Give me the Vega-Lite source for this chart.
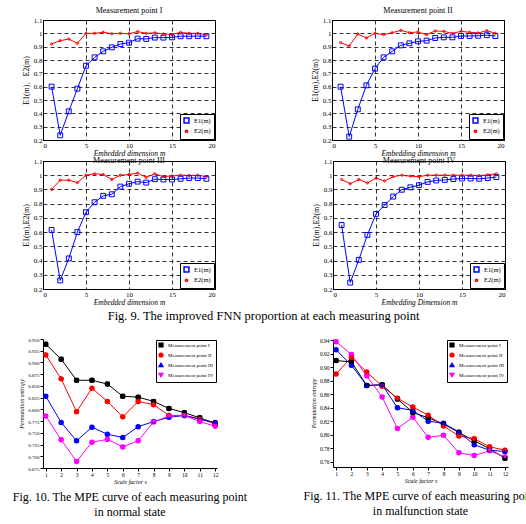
{
  "$schema": "https://vega.github.io/schema/vega-lite/v6.json",
  "padding": {"left": 12, "top": 6, "right": 0, "bottom": 0},
  "background": "white",
  "config": {
    "font": "Liberation Serif",
    "view": {"stroke": null},
    "axis": {"labelColor": "black", "titleColor": "black", "domainColor": "black", "tickColor": "black", "titleFontWeight": "normal", "labelFontSize": 7, "titleFontSize": 7.5, "labelPadding": 1, "titlePadding": 1},
    "title": {"fontSize": 8, "fontWeight": "normal", "offset": 1, "color": "black"},
    "legend": {"labelColor": "black"}
  },
  "datasets": {
    "fnn1": [
      {"m": 1, "E1": 0.60, "E2": 0.92}, {"m": 2, "E1": 0.235, "E2": 0.945}, {"m": 3, "E1": 0.415, "E2": 0.957},
      {"m": 4, "E1": 0.585, "E2": 0.925}, {"m": 5, "E1": 0.757, "E2": 1.0}, {"m": 6, "E1": 0.82, "E2": 1.0},
      {"m": 7, "E1": 0.865, "E2": 1.008}, {"m": 8, "E1": 0.895, "E2": 0.997}, {"m": 9, "E1": 0.92, "E2": 1.0},
      {"m": 10, "E1": 0.93, "E2": 0.997}, {"m": 11, "E1": 0.96, "E2": 1.013}, {"m": 12, "E1": 0.958, "E2": 1.0},
      {"m": 13, "E1": 0.968, "E2": 1.004}, {"m": 14, "E1": 0.968, "E2": 0.995}, {"m": 15, "E1": 0.97, "E2": 0.992},
      {"m": 16, "E1": 0.978, "E2": 1.007}, {"m": 17, "E1": 0.978, "E2": 1.0}, {"m": 18, "E1": 0.98, "E2": 1.0},
      {"m": 19, "E1": 0.978, "E2": 0.99}
    ],
    "fnn2": [
      {"m": 1, "E1": 0.60, "E2": 0.93}, {"m": 2, "E1": 0.225, "E2": 0.905}, {"m": 3, "E1": 0.43, "E2": 0.995},
      {"m": 4, "E1": 0.61, "E2": 0.965}, {"m": 5, "E1": 0.735, "E2": 1.0}, {"m": 6, "E1": 0.82, "E2": 0.99},
      {"m": 7, "E1": 0.865, "E2": 1.005}, {"m": 8, "E1": 0.91, "E2": 1.022}, {"m": 9, "E1": 0.925, "E2": 1.005},
      {"m": 10, "E1": 0.94, "E2": 1.01}, {"m": 11, "E1": 0.945, "E2": 0.99}, {"m": 12, "E1": 0.965, "E2": 1.018},
      {"m": 13, "E1": 0.97, "E2": 1.015}, {"m": 14, "E1": 0.97, "E2": 1.0}, {"m": 15, "E1": 0.98, "E2": 1.015},
      {"m": 16, "E1": 0.98, "E2": 1.008}, {"m": 17, "E1": 0.982, "E2": 1.003}, {"m": 18, "E1": 0.986, "E2": 1.02},
      {"m": 19, "E1": 0.98, "E2": 1.0}
    ],
    "fnn3": [
      {"m": 1, "E1": 0.615, "E2": 0.90}, {"m": 2, "E1": 0.26, "E2": 0.965}, {"m": 3, "E1": 0.415, "E2": 0.965},
      {"m": 4, "E1": 0.60, "E2": 0.948}, {"m": 5, "E1": 0.74, "E2": 1.0}, {"m": 6, "E1": 0.81, "E2": 1.01},
      {"m": 7, "E1": 0.855, "E2": 1.005}, {"m": 8, "E1": 0.866, "E2": 0.97}, {"m": 9, "E1": 0.92, "E2": 1.0},
      {"m": 10, "E1": 0.94, "E2": 1.005}, {"m": 11, "E1": 0.955, "E2": 1.015}, {"m": 12, "E1": 0.948, "E2": 0.985},
      {"m": 13, "E1": 0.972, "E2": 1.01}, {"m": 14, "E1": 0.97, "E2": 0.99}, {"m": 15, "E1": 0.97, "E2": 0.995},
      {"m": 16, "E1": 0.975, "E2": 1.0}, {"m": 17, "E1": 0.98, "E2": 0.998}, {"m": 18, "E1": 0.98, "E2": 1.0},
      {"m": 19, "E1": 0.975, "E2": 0.99}
    ],
    "fnn4": [
      {"m": 1, "E1": 0.65, "E2": 0.97}, {"m": 2, "E1": 0.245, "E2": 0.94}, {"m": 3, "E1": 0.405, "E2": 0.97},
      {"m": 4, "E1": 0.58, "E2": 0.946}, {"m": 5, "E1": 0.728, "E2": 0.98}, {"m": 6, "E1": 0.79, "E2": 0.96},
      {"m": 7, "E1": 0.85, "E2": 0.99}, {"m": 8, "E1": 0.898, "E2": 1.0}, {"m": 9, "E1": 0.915, "E2": 0.993},
      {"m": 10, "E1": 0.93, "E2": 0.99}, {"m": 11, "E1": 0.953, "E2": 1.0}, {"m": 12, "E1": 0.963, "E2": 1.0},
      {"m": 13, "E1": 0.967, "E2": 1.0}, {"m": 14, "E1": 0.973, "E2": 1.0}, {"m": 15, "E1": 0.977, "E2": 1.0},
      {"m": 16, "E1": 0.977, "E2": 1.0}, {"m": 17, "E1": 0.975, "E2": 0.997}, {"m": 18, "E1": 0.98, "E2": 1.003},
      {"m": 19, "E1": 0.987, "E2": 1.01}
    ],
    "mpe1": [
      {"s": 1, "I": 0.939, "II": 0.916, "III": 0.828, "IV": 0.786},
      {"s": 2, "I": 0.907, "II": 0.865, "III": 0.772, "IV": 0.735},
      {"s": 3, "I": 0.862, "II": 0.795, "III": 0.733, "IV": 0.689},
      {"s": 4, "I": 0.862, "II": 0.845, "III": 0.762, "IV": 0.730},
      {"s": 5, "I": 0.854, "II": 0.817, "III": 0.747, "IV": 0.736},
      {"s": 6, "I": 0.828, "II": 0.784, "III": 0.740, "IV": 0.720},
      {"s": 7, "I": 0.826, "II": 0.817, "III": 0.763, "IV": 0.733},
      {"s": 8, "I": 0.817, "II": 0.810, "III": 0.774, "IV": 0.773},
      {"s": 9, "I": 0.802, "II": 0.787, "III": 0.783, "IV": 0.786},
      {"s": 10, "I": 0.793, "II": 0.787, "III": 0.787, "IV": 0.787},
      {"s": 11, "I": 0.782, "II": 0.780, "III": 0.779, "IV": 0.774},
      {"s": 12, "I": 0.770, "II": 0.769, "III": 0.772, "IV": 0.764}
    ],
    "mpe2": [
      {"s": 1, "I": 0.910, "II": 0.890, "III": 0.926, "IV": 0.938},
      {"s": 2, "I": 0.908, "II": 0.915, "III": 0.903, "IV": 0.919},
      {"s": 3, "I": 0.873, "II": 0.893, "III": 0.873, "IV": 0.887},
      {"s": 4, "I": 0.874, "II": 0.872, "III": 0.874, "IV": 0.856},
      {"s": 5, "I": 0.853, "II": 0.854, "III": 0.840, "IV": 0.809},
      {"s": 6, "I": 0.833, "II": 0.841, "III": 0.836, "IV": 0.826},
      {"s": 7, "I": 0.825, "II": 0.829, "III": 0.820, "IV": 0.796},
      {"s": 8, "I": 0.816, "II": 0.813, "III": 0.817, "IV": 0.799},
      {"s": 9, "I": 0.803, "II": 0.798, "III": 0.804, "IV": 0.773},
      {"s": 10, "I": 0.791, "II": 0.794, "III": 0.785, "IV": 0.769},
      {"s": 11, "I": 0.779, "II": 0.782, "III": 0.777, "IV": 0.776},
      {"s": 12, "I": 0.765, "II": 0.777, "III": 0.775, "IV": 0.767}
    ]
  },
  "spacing": 14,
  "resolve": {"scale": {"color": "independent", "shape": "independent", "size": "independent", "x": "independent", "y": "independent"}, "legend": {"color": "independent", "shape": "independent", "size": "independent"}},
  "vconcat": [
    {
      "spacing": -1,
      "resolve": {"scale": {"color": "independent", "shape": "independent", "size": "independent", "x": "independent", "y": "independent"}, "legend": {"color": "independent", "shape": "independent", "size": "independent"}},
      "title": {"text": "Fig. 9. The improved FNN proportion at each measuring point", "orient": "bottom", "anchor": "middle", "fontSize": 12.5, "offset": 4},
      "vconcat": [
        {
          "bounds": "flush",
          "spacing": 117,
          "resolve": {"scale": {"color": "independent", "shape": "independent", "size": "independent", "x": "independent", "y": "independent"}, "legend": {"color": "independent", "shape": "independent", "size": "independent"}},
          "hconcat": [
            {
              "width": 172, "height": 120,
              "view": {"stroke": "black"},
              "title": "Measurement point  I",
              "data": {"name": "fnn1"},
              "transform": [{"fold": ["E1", "E2"], "as": ["series", "v"]}],
              "encoding": {
                "x": {"field": "m", "type": "quantitative", "scale": {"domain": [0, 20]}, "axis": {"values": [0, 5, 10, 15, 20], "title": "Embedded dimension  m", "titleFontStyle": "italic", "ticks": false, "gridColor": "black", "gridDash": [4, 3], "gridOpacity": 1, "gridWidth": 0.8}},
                "y": {"field": "v", "type": "quantitative", "scale": {"domain": [0.2, 1.1]}, "axis": {"values": [0.2, 0.3, 0.4, 0.5, 0.6, 0.7, 0.8, 0.9, 1.0, 1.1], "format": "~g", "title": "E1(m)、E2(m)", "titleFontSize": 8, "titlePadding": 3, "ticks": false, "gridColor": "black", "gridDash": [4, 3], "gridOpacity": 1, "gridWidth": 0.8}},
                "color": {"field": "series", "type": "nominal", "scale": {"domain": ["E1", "E2"], "range": ["#0000ff", "#ff0000"]}, "legend": {"orient": "bottom-right", "offset": 1, "padding": 3, "strokeColor": "black", "fillColor": "white", "labelFontSize": 6.5, "rowPadding": 1, "title": null, "labelExpr": "datum.label + '(m)'"}}
              },
              "layer": [
                {"mark": {"type": "line", "strokeWidth": 1}},
                {"mark": {"type": "point", "filled": false, "strokeWidth": 1, "opacity": 1},
                 "encoding": {
                   "shape": {"field": "series", "type": "nominal", "scale": {"domain": ["E1", "E2"], "range": ["square", "circle"]}, "legend": {"orient": "bottom-right", "offset": 1, "padding": 3, "strokeColor": "black", "fillColor": "white", "labelFontSize": 6.5, "rowPadding": 1, "title": null, "labelExpr": "datum.label + '(m)'"}},
                   "size": {"field": "series", "type": "nominal", "scale": {"domain": ["E1", "E2"], "range": [24, 5]}, "legend": {"orient": "bottom-right", "offset": 1, "padding": 3, "strokeColor": "black", "fillColor": "white", "labelFontSize": 6.5, "rowPadding": 1, "title": null, "labelExpr": "datum.label + '(m)'"}}
                 }}
              ]
            },
            {
              "width": 172, "height": 120,
              "view": {"stroke": "black"},
              "title": "Measurement point  II",
              "data": {"name": "fnn2"},
              "transform": [{"fold": ["E1", "E2"], "as": ["series", "v"]}],
              "encoding": {
                "x": {"field": "m", "type": "quantitative", "scale": {"domain": [0, 20]}, "axis": {"values": [0, 5, 10, 15, 20], "title": "Embedding dimension  m", "titleFontStyle": "italic", "ticks": false, "gridColor": "black", "gridDash": [4, 3], "gridOpacity": 1, "gridWidth": 0.8}},
                "y": {"field": "v", "type": "quantitative", "scale": {"domain": [0.2, 1.1]}, "axis": {"values": [0.2, 0.3, 0.4, 0.5, 0.6, 0.7, 0.8, 0.9, 1.0, 1.1], "format": "~g", "title": "E1(m),E2(m)", "titleFontSize": 8, "titlePadding": 3, "ticks": false, "gridColor": "black", "gridDash": [4, 3], "gridOpacity": 1, "gridWidth": 0.8}},
                "color": {"field": "series", "type": "nominal", "scale": {"domain": ["E1", "E2"], "range": ["#0000ff", "#ff0000"]}, "legend": {"orient": "bottom-right", "offset": 1, "padding": 3, "strokeColor": "black", "fillColor": "white", "labelFontSize": 6.5, "rowPadding": 1, "title": null, "labelExpr": "datum.label + '(m)'"}}
              },
              "layer": [
                {"mark": {"type": "line", "strokeWidth": 1}},
                {"mark": {"type": "point", "filled": false, "strokeWidth": 1, "opacity": 1},
                 "encoding": {
                   "shape": {"field": "series", "type": "nominal", "scale": {"domain": ["E1", "E2"], "range": ["square", "circle"]}, "legend": {"orient": "bottom-right", "offset": 1, "padding": 3, "strokeColor": "black", "fillColor": "white", "labelFontSize": 6.5, "rowPadding": 1, "title": null, "labelExpr": "datum.label + '(m)'"}},
                   "size": {"field": "series", "type": "nominal", "scale": {"domain": ["E1", "E2"], "range": [24, 5]}, "legend": {"orient": "bottom-right", "offset": 1, "padding": 3, "strokeColor": "black", "fillColor": "white", "labelFontSize": 6.5, "rowPadding": 1, "title": null, "labelExpr": "datum.label + '(m)'"}}
                 }}
              ]
            }
          ]
        },
        {
          "bounds": "flush",
          "spacing": 118,
          "resolve": {"scale": {"color": "independent", "shape": "independent", "size": "independent", "x": "independent", "y": "independent"}, "legend": {"color": "independent", "shape": "independent", "size": "independent"}},
          "hconcat": [
            {
              "width": 172, "height": 128,
              "view": {"stroke": "black"},
              "title": {"text": "Measurement point  III", "offset": -8},
              "data": {"name": "fnn3"},
              "transform": [{"fold": ["E1", "E2"], "as": ["series", "v"]}],
              "encoding": {
                "x": {"field": "m", "type": "quantitative", "scale": {"domain": [0, 20]}, "axis": {"values": [0, 5, 10, 15, 20], "title": "Embedded dimension  m", "titleFontStyle": "italic", "ticks": false, "gridColor": "black", "gridDash": [4, 3], "gridOpacity": 1, "gridWidth": 0.8}},
                "y": {"field": "v", "type": "quantitative", "scale": {"domain": [0.2, 1.1]}, "axis": {"values": [0.2, 0.3, 0.4, 0.5, 0.6, 0.7, 0.8, 0.9, 1.0, 1.1], "format": "~g", "title": "E1(m),E2(m)", "titleFontSize": 8, "titlePadding": 3, "ticks": false, "gridColor": "black", "gridDash": [4, 3], "gridOpacity": 1, "gridWidth": 0.8}},
                "color": {"field": "series", "type": "nominal", "scale": {"domain": ["E1", "E2"], "range": ["#0000ff", "#ff0000"]}, "legend": {"orient": "bottom-right", "offset": 1, "padding": 3, "strokeColor": "black", "fillColor": "white", "labelFontSize": 6.5, "rowPadding": 1, "title": null, "labelExpr": "datum.label + '(m)'"}}
              },
              "layer": [
                {"mark": {"type": "line", "strokeWidth": 1}},
                {"mark": {"type": "point", "filled": false, "strokeWidth": 1, "opacity": 1},
                 "encoding": {
                   "shape": {"field": "series", "type": "nominal", "scale": {"domain": ["E1", "E2"], "range": ["square", "circle"]}, "legend": {"orient": "bottom-right", "offset": 1, "padding": 3, "strokeColor": "black", "fillColor": "white", "labelFontSize": 6.5, "rowPadding": 1, "title": null, "labelExpr": "datum.label + '(m)'"}},
                   "size": {"field": "series", "type": "nominal", "scale": {"domain": ["E1", "E2"], "range": [24, 5]}, "legend": {"orient": "bottom-right", "offset": 1, "padding": 3, "strokeColor": "black", "fillColor": "white", "labelFontSize": 6.5, "rowPadding": 1, "title": null, "labelExpr": "datum.label + '(m)'"}}
                 }}
              ]
            },
            {
              "width": 172, "height": 128,
              "view": {"stroke": "black"},
              "title": {"text": "Measurement point IV", "offset": -8},
              "data": {"name": "fnn4"},
              "transform": [{"fold": ["E1", "E2"], "as": ["series", "v"]}],
              "encoding": {
                "x": {"field": "m", "type": "quantitative", "scale": {"domain": [0, 20]}, "axis": {"values": [0, 5, 10, 15, 20], "title": "Embedding Dimension  m", "titleFontStyle": "italic", "ticks": false, "gridColor": "black", "gridDash": [4, 3], "gridOpacity": 1, "gridWidth": 0.8}},
                "y": {"field": "v", "type": "quantitative", "scale": {"domain": [0.2, 1.1]}, "axis": {"values": [0.2, 0.3, 0.4, 0.5, 0.6, 0.7, 0.8, 0.9, 1.0, 1.1], "format": "~g", "title": "E1(m),E2(m)", "titleFontSize": 8, "titlePadding": 3, "ticks": false, "gridColor": "black", "gridDash": [4, 3], "gridOpacity": 1, "gridWidth": 0.8}},
                "color": {"field": "series", "type": "nominal", "scale": {"domain": ["E1", "E2"], "range": ["#0000ff", "#ff0000"]}, "legend": {"orient": "bottom-right", "offset": 1, "padding": 3, "strokeColor": "black", "fillColor": "white", "labelFontSize": 6.5, "rowPadding": 1, "title": null, "labelExpr": "datum.label + '(m)'"}}
              },
              "layer": [
                {"mark": {"type": "line", "strokeWidth": 1}},
                {"mark": {"type": "point", "filled": false, "strokeWidth": 1, "opacity": 1},
                 "encoding": {
                   "shape": {"field": "series", "type": "nominal", "scale": {"domain": ["E1", "E2"], "range": ["square", "circle"]}, "legend": {"orient": "bottom-right", "offset": 1, "padding": 3, "strokeColor": "black", "fillColor": "white", "labelFontSize": 6.5, "rowPadding": 1, "title": null, "labelExpr": "datum.label + '(m)'"}},
                   "size": {"field": "series", "type": "nominal", "scale": {"domain": ["E1", "E2"], "range": [24, 5]}, "legend": {"orient": "bottom-right", "offset": 1, "padding": 3, "strokeColor": "black", "fillColor": "white", "labelFontSize": 6.5, "rowPadding": 1, "title": null, "labelExpr": "datum.label + '(m)'"}}
                 }}
              ]
            }
          ]
        }
      ]
    },
    {
      "bounds": "flush",
      "spacing": 116,
      "resolve": {"scale": {"color": "independent", "shape": "independent", "size": "independent", "x": "independent", "y": "independent"}, "legend": {"color": "independent", "shape": "independent", "size": "independent"}},
      "hconcat": [
        {
          "width": 174, "height": 129,
          "title": {"text": ["Fig. 10. The MPE curve of each measuring point", "in normal state"], "orient": "bottom", "anchor": "middle", "fontSize": 12, "lineHeight": 15, "offset": 7},
          "data": {"name": "mpe1"},
          "transform": [{"fold": ["I", "II", "III", "IV"], "as": ["series", "v"]}],
          "encoding": {
            "x": {"field": "s", "type": "quantitative", "scale": {"domain": [0.82, 12.12]}, "axis": {"values": [1, 2, 3, 4, 5, 6, 7, 8, 9, 10, 11, 12], "title": "Scale factor  s", "titleFontStyle": "italic", "titleFontSize": 6, "labelFontSize": 5.5, "tickSize": 3, "grid": false, "titlePadding": 1}},
            "y": {"field": "v", "type": "quantitative", "scale": {"domain": [0.675, 0.95]}, "axis": {"values": [0.675, 0.7, 0.725, 0.75, 0.775, 0.8, 0.825, 0.85, 0.875, 0.9, 0.925, 0.95], "format": ".3f", "title": "Permutation entropy", "titleFontStyle": "italic", "titleFontSize": 6, "labelFontSize": 5, "tickSize": 3, "grid": false, "titlePadding": 3}},
            "color": {"field": "series", "type": "nominal", "scale": {"domain": ["I", "II", "III", "IV"], "range": ["#000000", "#ff0000", "#0000ff", "#ff00ff"]}, "legend": {"orient": "top-right", "offset": 1, "padding": 2, "strokeColor": "black", "fillColor": "white", "labelFontSize": 5, "symbolSize": 14, "rowPadding": 0, "title": null, "labelExpr": "'Measurement point ' + datum.label"}},
            "shape": {"field": "series", "type": "nominal", "scale": {"domain": ["I", "II", "III", "IV"], "range": ["square", "circle", "triangle-up", "triangle-down"]}, "legend": {"orient": "top-right", "offset": 1, "padding": 2, "strokeColor": "black", "fillColor": "white", "labelFontSize": 5, "symbolSize": 14, "rowPadding": 0, "title": null, "labelExpr": "'Measurement point ' + datum.label"}}
          },
          "layer": [
            {"mark": {"type": "line", "strokeWidth": 1}, "encoding": {"shape": {"value": "circle"}}},
            {"mark": {"type": "point", "filled": true, "size": 22, "opacity": 1}}
          ]
        },
        {
          "width": 175, "height": 128,
          "title": {"text": ["Fig. 11. The MPE curve of each measuring point", "in malfunction state"], "orient": "bottom", "anchor": "middle", "fontSize": 12, "lineHeight": 15, "offset": 7},
          "data": {"name": "mpe2"},
          "transform": [{"fold": ["I", "II", "III", "IV"], "as": ["series", "v"]}],
          "encoding": {
            "x": {"field": "s", "type": "quantitative", "scale": {"domain": [0.8, 12.2]}, "axis": {"values": [1, 2, 3, 4, 5, 6, 7, 8, 9, 10, 11, 12], "title": "Scale factor  s", "titleFontStyle": "italic", "titleFontSize": 6, "labelFontSize": 5.5, "tickSize": 3, "grid": false, "titlePadding": 1}},
            "y": {"field": "v", "type": "quantitative", "scale": {"domain": [0.752, 0.942]}, "axis": {"values": [0.76, 0.78, 0.8, 0.82, 0.84, 0.86, 0.88, 0.9, 0.92, 0.94], "format": ".2f", "title": "Permutation entropy", "titleFontStyle": "italic", "titleFontSize": 6, "labelFontSize": 5.5, "tickSize": 3, "grid": false, "titlePadding": 3}},
            "color": {"field": "series", "type": "nominal", "scale": {"domain": ["I", "II", "III", "IV"], "range": ["#000000", "#ff0000", "#0000ff", "#ff00ff"]}, "legend": {"orient": "top-right", "offset": 1, "padding": 2, "strokeColor": "black", "fillColor": "white", "labelFontSize": 5, "symbolSize": 14, "rowPadding": 0, "title": null, "labelExpr": "'Measurement point ' + datum.label"}},
            "shape": {"field": "series", "type": "nominal", "scale": {"domain": ["I", "II", "III", "IV"], "range": ["square", "circle", "triangle-up", "triangle-down"]}, "legend": {"orient": "top-right", "offset": 1, "padding": 2, "strokeColor": "black", "fillColor": "white", "labelFontSize": 5, "symbolSize": 14, "rowPadding": 0, "title": null, "labelExpr": "'Measurement point ' + datum.label"}}
          },
          "layer": [
            {"mark": {"type": "line", "strokeWidth": 1}, "encoding": {"shape": {"value": "circle"}}},
            {"mark": {"type": "point", "filled": true, "size": 22, "opacity": 1}}
          ]
        }
      ]
    }
  ]
}
